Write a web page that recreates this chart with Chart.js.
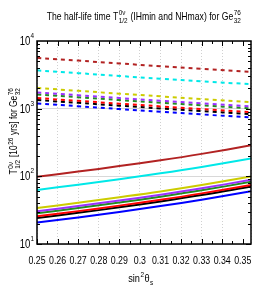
<!DOCTYPE html>
<html>
<head>
<meta charset="utf-8">
<script src="https://cdn.jsdelivr.net/npm/chart.js@4.4.0/dist/chart.umd.min.js"></script>
<style>
  html, body { margin: 0; padding: 0; background: #fff; }
</style>
</head>
<body>
<canvas id="halfLifeChart" width="266" height="302"></canvas>
<script>
// sin^2(theta_s) sample points
const sin2Theta = [0.25, 0.27, 0.29, 0.31, 0.33, 0.354];
const xTicks = [0.25, 0.26, 0.27, 0.28, 0.29, 0.30, 0.31, 0.32, 0.33, 0.34, 0.35];
const yDecades = [10, 100, 1000, 10000];

// IHmin (dashed), T in 10^26 yrs
const ihBrown  = [5636, 5129, 4656, 4246, 3882, 3491];
const ihCyan   = [3681, 3350, 3041, 2773, 2535, 2300];
const ihYellow = [2018, 1837, 1667, 1521, 1390, 1250];
const ihPurple = [1738, 1581, 1435, 1309, 1197, 1076];
const ihGreen  = [1622, 1476, 1340, 1222, 1117, 1005];
const ihRed    = [1435, 1306, 1186, 1081, 989, 889];
const ihBlack  = [1340, 1219, 1107, 1009, 923, 830];
const ihBlue   = [1194, 1086, 986, 899, 822, 740];

// NHmax (solid)
const nhBrown  = [98.2, 117.5, 141.6, 172.6, 214.8, 287.1];
const nhCyan   = [63.0, 75.3, 90.8, 110.7, 137.7, 184.1];
const nhYellow = [34.0, 40.7, 49.1, 59.8, 74.5, 99.5];
const nhPurple = [30.4, 36.4, 43.9, 53.5, 66.5, 88.9];
const nhGreen  = [28.4, 34.0, 40.9, 49.9, 62.1, 83.0];
const nhRed    = [25.6, 30.6, 36.9, 45.0, 56.0, 74.8];
const nhBlack  = [24.2, 28.9, 34.8, 42.5, 52.8, 70.6];
const nhBlue   = [20.7, 24.7, 29.8, 36.3, 45.2, 60.4];

const FONT = '"Liberation Sans", Arial, sans-serif';
const NARROW = 0.8; // horizontal squeeze, the original uses a narrow face

const toPoints = (ys) => ys.map((y, i) => ({ x: sin2Theta[i], y: y }));

function line(data, color, dashed) {
  return {
    data: toPoints(data),
    borderColor: color,
    borderWidth: 2,
    borderDash: dashed ? [4, 4] : [],
    pointRadius: 0,
    tension: 0.4,
    fill: false,
  };
}

// narrow text at (x, y)
function narrowText(ctx, s, x, y, font, align) {
  ctx.save();
  ctx.font = font;
  const w = ctx.measureText(s).width * NARROW;
  const left = align === "center" ? x - w / 2 : align === "right" ? x - w : x;
  ctx.translate(left, y);
  ctx.scale(NARROW, 1);
  ctx.textAlign = "left";
  ctx.textBaseline = "alphabetic";
  ctx.fillText(s, 0, 0);
  ctx.restore();
  return w;
}

// text with super/subscripts, centred on x
function drawRich(ctx, parts, x, y, size) {
  const main = size + "px " + FONT;
  const small = Math.round(size * 0.72) + "px " + FONT;
  const widthOf = (p) => {
    if (typeof p === "string") { ctx.font = main; return ctx.measureText(p).width * NARROW; }
    ctx.font = small;
    return Math.max(ctx.measureText(p.sup || "").width, ctx.measureText(p.sub || "").width) * NARROW + 1;
  };
  let total = 0;
  parts.forEach((p) => (total += widthOf(p)));
  let cx = x - total / 2;
  parts.forEach((p) => {
    const w = widthOf(p);
    if (typeof p === "string") {
      narrowText(ctx, p, cx, y, main, "left");
    } else {
      if (p.sup) narrowText(ctx, p.sup, cx + 0.5, y - size * 0.42, small, "left");
      if (p.sub) narrowText(ctx, p.sub, cx + 0.5, y + size * 0.3, small, "left");
    }
    cx += w;
  });
}

const framePlugin = {
  id: "frame",
  afterDraw(chart) {
    const { ctx, chartArea: a, scales } = chart;
    const xs = scales.x, ys = scales.y;
    ctx.save();
    ctx.strokeStyle = "#000";
    ctx.fillStyle = "#000";

    // inward ticks
    ctx.lineWidth = 1;
    ctx.beginPath();
    for (let v = 0.25; v <= 0.3541; v += 0.005) {
      const px = Math.round(xs.getPixelForValue(v)) + 0.5;
      const major = Math.abs(v * 100 - Math.round(v * 100)) < 1e-6;
      const len = major ? 5 : 3;
      ctx.moveTo(px, a.bottom); ctx.lineTo(px, a.bottom - len);
      ctx.moveTo(px, a.top); ctx.lineTo(px, a.top + len);
    }
    for (let d = 10; d < 10000; d *= 10) {
      for (let m = 1; m <= 9; m++) {
        const py = Math.round(ys.getPixelForValue(d * m)) + 0.5;
        const len = m === 1 ? 5 : 3;
        ctx.moveTo(a.left, py); ctx.lineTo(a.left + len, py);
        ctx.moveTo(a.right, py); ctx.lineTo(a.right - len, py);
      }
    }
    ctx.stroke();

    // frame
    ctx.lineWidth = 1.5;
    ctx.strokeRect(a.left, a.top, a.right - a.left, a.bottom - a.top);

    // x tick labels
    xTicks.forEach((v) => {
      const lbl = Math.abs(v - 0.3) < 1e-9 ? "0.3" : v.toFixed(2);
      narrowText(ctx, lbl, xs.getPixelForValue(v), a.bottom + 20, "11px " + FONT, "center");
    });

    // y tick labels 10^n
    yDecades.forEach((v) => {
      const py = ys.getPixelForValue(v);
      const exp = String(Math.round(Math.log10(v)));
      const ew = narrowText(ctx, exp, a.left - 3, py - 3, "8px " + FONT, "right");
      narrowText(ctx, "10", a.left - 3 - ew, py + 4, "12px " + FONT, "right");
    });

    // title
    drawRich(ctx, [
      "The half-life time T", { sup: "0\u03bd", sub: "1/2" },
      " (IHmin and NHmax) for Ge", { sup: "76", sub: "32" },
    ], 144, 20, 10.8);

    // x title
    drawRich(ctx, ["sin", { sup: "2" }, "\u03b8", { sub: "s" }], 141, 282, 11.5);

    // y title
    ctx.translate(13, 131);
    ctx.rotate(-Math.PI / 2);
    drawRich(ctx, [
      "T", { sup: "0\u03bd", sub: "1/2" }, " [10", { sup: "26" }, " yrs] for Ge", { sup: "76", sub: "32" },
    ], 0, 4, 10.5);
    ctx.restore();
  },
};

new Chart(document.getElementById("halfLifeChart"), {
  type: "line",
  data: {
    datasets: [
      line(ihBrown, "#b22222", true),
      line(ihCyan, "#00e8e8", true),
      line(ihYellow, "#cccc00", true),
      line(ihPurple, "#9b30ff", true),
      line(ihGreen, "#228b22", true),
      line(ihRed, "#ff0000", true),
      line(ihBlack, "#000000", true),
      line(ihBlue, "#0000ff", true),
      line(nhBrown, "#b22222", false),
      line(nhCyan, "#00e8e8", false),
      line(nhYellow, "#cccc00", false),
      line(nhPurple, "#9b30ff", false),
      line(nhGreen, "#228b22", false),
      line(nhRed, "#ff0000", false),
      line(nhBlack, "#000000", false),
      line(nhBlue, "#0000ff", false),
    ],
  },
  options: {
    responsive: false,
    animation: false,
    layout: { padding: { left: 37, right: 15, top: 41, bottom: 58 } },
    plugins: { legend: { display: false }, tooltip: { enabled: false } },
    scales: {
      x: {
        type: "linear",
        min: 0.25,
        max: 0.354,
        ticks: { display: false, stepSize: 0.01 },
        grid: { color: "#d0d0d0", drawTicks: false },
        border: { display: false, dash: [1, 2] },
      },
      y: {
        type: "logarithmic",
        min: 10,
        max: 10000,
        ticks: { display: false },
        grid: {
          drawTicks: false,
          color: (c) => {
            const v = c.tick && c.tick.value;
            const l = Math.log10(v);
            return Math.abs(l - Math.round(l)) < 1e-6 ? "#d8d8d8" : "rgba(0,0,0,0)";
          },
        },
        border: { display: false },
      },
    },
  },
  plugins: [framePlugin],
});
</script>
</body>
</html>
